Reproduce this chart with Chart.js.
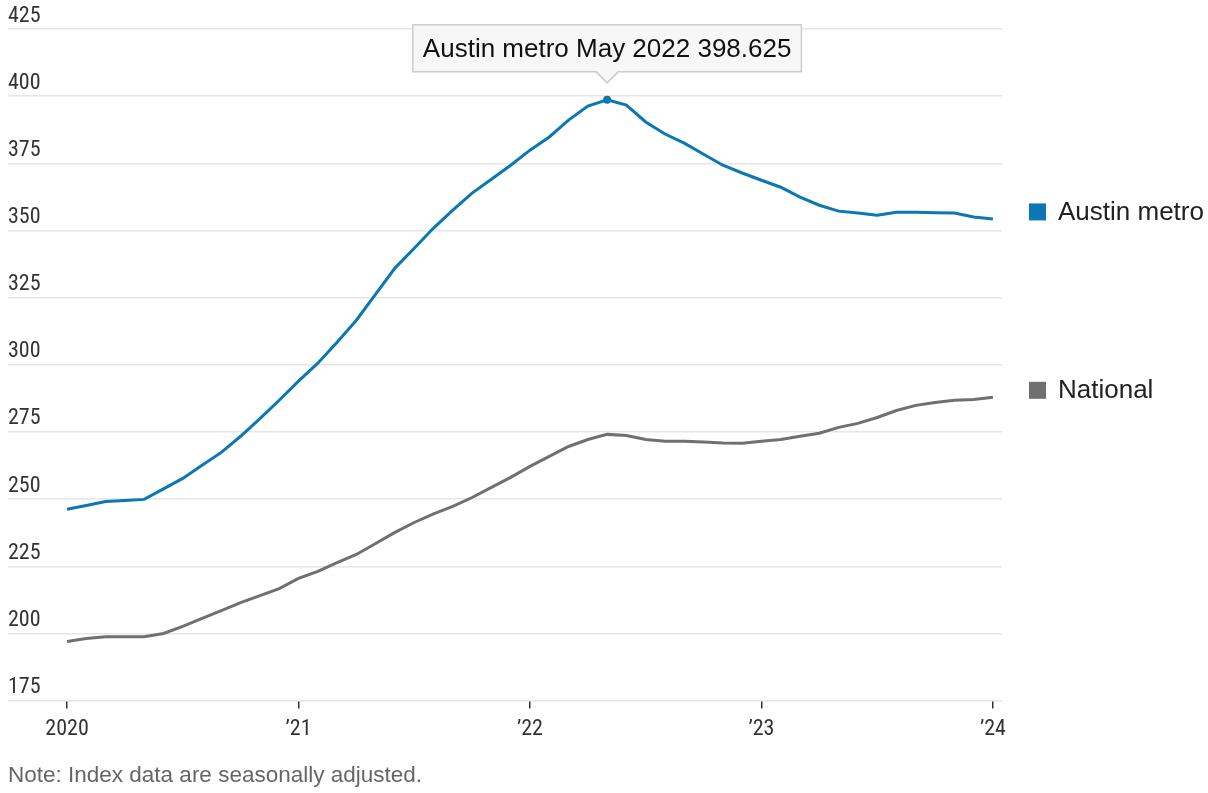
<!DOCTYPE html>
<html>
<head>
<meta charset="utf-8">
<script src="https://cdn.jsdelivr.net/npm/chart.js@4"></script>
<style>
  body { margin: 0; background: #fff; }
  #wrap { position: relative; width: 1208px; height: 793px; }
  #note { position: absolute; left: 8px; top: 762px; font: 22.5px "Liberation Sans", Arial, sans-serif; color: #666; }
</style>
</head>
<body>
<div id="wrap">
  <canvas id="hpiChart"></canvas>
  <div id="note">Note: Index data are seasonally adjusted.</div>
</div>
<script>
// monthly, Jan 2020 .. Jan 2024
const monthNames = ['Jan', 'Feb', 'Mar', 'Apr', 'May', 'Jun', 'Jul', 'Aug', 'Sep', 'Oct', 'Nov', 'Dec'];
const years = [2020, 2021, 2022, 2023, 2024];
const months = [];
years.forEach(y => monthNames.forEach(m => months.push(m + ' ' + y)));
months.length = 49;

const austin = [
  246.2, 247.6, 249.1, 249.5, 249.9, 253.8, 257.7, 262.6, 267.4, 273.4, 280.0, 286.8,
  293.9, 300.6, 308.4, 316.6, 326.3, 336.0, 343.4, 350.9, 357.6, 363.9, 369.1, 374.3,
  379.9, 384.8, 391.1, 396.3, 398.625, 396.7, 390.4, 385.9, 382.5, 378.4, 374.3, 371.4,
  368.7, 366.1, 362.4, 359.4, 357.2, 356.5, 355.7, 356.8, 356.8, 356.6, 356.5, 355.0,
  354.3
];
const national = [
  197.0, 198.1, 198.8, 198.8, 198.8, 200.0, 202.6, 205.6, 208.5, 211.5, 214.1, 216.7,
  220.5, 223.1, 226.4, 229.4, 233.5, 237.6, 241.3, 244.5, 247.3, 250.6, 254.4, 258.1,
  262.2, 265.9, 269.6, 272.2, 274.1, 273.7, 272.2, 271.5, 271.5, 271.3, 270.9, 270.8,
  271.5, 272.2, 273.4, 274.5, 276.7, 278.2, 280.4, 283.0, 284.9, 286.0, 286.8, 287.1,
  287.9
];
const tickLabels = ['2020', '\u201921', '\u201922', '\u201923', '\u201924'];
const yTicks = [175, 200, 225, 250, 275, 300, 325, 350, 375, 400, 425];

const BLUE = '#0b77b3';
const GREY = '#707070';
const peakIndex = austin.indexOf(Math.max(...austin));
const tickFont = { family: "'Liberation Sans Narrow', 'Roboto Condensed', 'DejaVu Sans Condensed', sans-serif", size: 22 };
const textFont = '26px "Liberation Sans", Arial, sans-serif';

const annotations = {
  id: 'annotations',
  afterDatasetsDraw(chart) {
    const ctx = chart.ctx;
    ctx.save();
    // end-of-line labels
    chart.data.datasets.forEach((ds, i) => {
      const pts = chart.getDatasetMeta(i).data;
      const y = pts[pts.length - 1].y - 7;
      ctx.fillStyle = ds.borderColor;
      ctx.fillRect(1029, y - 8.5, 17, 17);
      ctx.fillStyle = '#222';
      ctx.font = textFont;
      ctx.textBaseline = 'middle';
      ctx.textAlign = 'left';
      ctx.fillText(ds.label, 1058, y + 1);
    });
    // tooltip at the peak
    const p = chart.getDatasetMeta(0).data[peakIndex];
    const text = chart.data.datasets[0].label + ' ' + months[peakIndex] + ' ' + austin[peakIndex];
    ctx.font = textFont;
    const w = ctx.measureText(text).width + 20;
    const h = 47;
    const bx = p.x - w / 2, by = p.y - 28 - h;
    ctx.beginPath();
    ctx.moveTo(bx, by);
    ctx.lineTo(bx + w, by);
    ctx.lineTo(bx + w, by + h);
    ctx.lineTo(p.x + 11, by + h);
    ctx.lineTo(p.x, by + h + 11);
    ctx.lineTo(p.x - 11, by + h);
    ctx.lineTo(bx, by + h);
    ctx.closePath();
    ctx.fillStyle = '#f7f7f7';
    ctx.fill();
    ctx.strokeStyle = '#cccccc';
    ctx.lineWidth = 1.5;
    ctx.stroke();
    ctx.fillStyle = '#111';
    ctx.textAlign = 'center';
    ctx.textBaseline = 'middle';
    ctx.fillText(text, p.x, by + h / 2 + 1);
    ctx.restore();
  }
};

new Chart(document.getElementById('hpiChart'), {
  type: 'line',
  data: {
    datasets: [
      {
        label: 'Austin metro',
        data: austin.map((v, i) => ({ x: i, y: v })),
        borderColor: BLUE,
        backgroundColor: BLUE,
        borderWidth: 3,
        pointRadius: ctx => ctx.dataIndex === peakIndex ? 4 : 0,
        pointBorderWidth: 0,
        tension: 0
      },
      {
        label: 'National',
        data: national.map((v, i) => ({ x: i, y: v })),
        borderColor: GREY,
        backgroundColor: GREY,
        borderWidth: 3,
        pointRadius: 0,
        tension: 0
      }
    ]
  },
  options: {
    responsive: true,
    maintainAspectRatio: false,
    animation: false,
    layout: { padding: { left: 8, right: 206, top: 29, bottom: 42 } },
    plugins: { legend: { display: false }, tooltip: { enabled: false } },
    scales: {
      x: {
        type: 'linear',
        min: -3.06,
        max: 48.47,
        afterBuildTicks: scale => { scale.ticks = [0, 12, 24, 36, 48].map(v => ({ value: v })); },
        ticks: { callback: v => tickLabels[v / 12], color: '#333', font: tickFont, padding: 8, maxRotation: 0 },
        grid: { drawOnChartArea: false, drawTicks: true, tickLength: 8, color: '#333', lineWidth: 1.5 },
        border: { display: false }
      },
      y: {
        min: 175,
        max: 425,
        afterBuildTicks: scale => { scale.ticks = yTicks.map(v => ({ value: v })); },
        ticks: { mirror: true, padding: 0, labelOffset: -13, color: '#333', font: tickFont },
        grid: { color: '#e6e6e6', lineWidth: 1.5, drawTicks: false },
        border: { display: false }
      }
    }
  },
  plugins: [annotations]
});
</script>
</body>
</html>
